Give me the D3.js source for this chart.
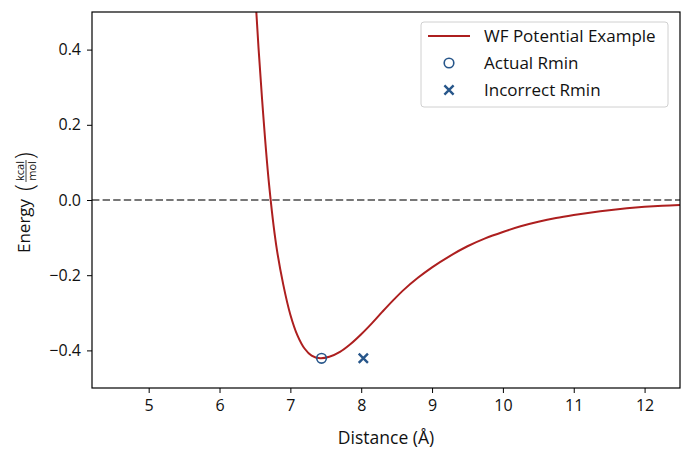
<!DOCTYPE html>
<html>
<head>
<meta charset="utf-8">
<script src="https://cdn.jsdelivr.net/npm/d3@7"></script>
<style>
  body { margin: 0; background: #fff; }
  svg text { font-family: "Open Sans", "DejaVu Sans", sans-serif; fill: #111; }
</style>
</head>
<body>
<div id="chart"></div>
<script>
// WF potential curve
var distance = [6.45, 6.50, 6.60, 6.70, 6.80, 6.90, 7.00, 7.10, 7.20, 7.30, 7.42, 7.55, 7.70,
                7.85, 8.00, 8.15, 8.30, 8.45, 8.60, 8.80, 9.00, 9.25, 9.50, 9.75, 10.0, 10.25,
                10.5, 10.75, 11.0, 11.25, 11.5, 11.75, 12.0, 12.25, 12.5];
var energy = [0.76, 0.56, 0.27, 0.04, -0.12, -0.225, -0.305, -0.360, -0.395, -0.414, -0.421,
              -0.417, -0.404, -0.383, -0.357, -0.328, -0.297, -0.267, -0.239, -0.207, -0.179,
              -0.149, -0.123, -0.102, -0.085, -0.070, -0.058, -0.048, -0.040, -0.033, -0.027,
              -0.022, -0.018, -0.015, -0.013];

var actualRmin = [7.44, -0.421];
var incorrectRmin = [8.03, -0.421];

var xTicks = [5, 6, 7, 8, 9, 10, 11, 12];
var yTicks = [-0.4, -0.2, 0.0, 0.2, 0.4];
var legendLabels = ["WF Potential Example", "Actual Rmin", "Incorrect Rmin"];

var curveColor = "#ad1f1f";
var markColor = "#27568a";

var width = 690, height = 458;
var margin = {top: 12, right: 10, bottom: 70, left: 92};
var w = width - margin.left - margin.right,
    h = height - margin.top - margin.bottom;

var svg = d3.select("#chart").append("svg")
    .attr("width", width)
    .attr("height", height);

var g = svg.append("g")
    .attr("transform", "translate(" + margin.left + "," + margin.top + ")");

var x = d3.scaleLinear().domain([4.2, 12.5]).range([0, w]);
var y = d3.scaleLinear().domain([-0.5, 0.5]).range([h, 0]);

g.append("clipPath").attr("id", "clip")
    .append("rect").attr("width", w).attr("height", h);

// zero line
g.append("line")
    .attr("x1", 0).attr("x2", w)
    .attr("y1", y(0)).attr("y2", y(0))
    .attr("stroke", "#777")
    .attr("stroke-width", 2)
    .attr("stroke-dasharray", "7.4,3.2");

// curve
var pts = distance.map(function (d, i) { return [d, energy[i]]; });
var line = d3.line()
    .x(function (d) { return x(d[0]); })
    .y(function (d) { return y(d[1]); })
    .curve(d3.curveCatmullRom.alpha(0.5));

g.append("path")
    .datum(pts)
    .attr("clip-path", "url(#clip)")
    .attr("d", line)
    .attr("fill", "none")
    .attr("stroke", curveColor)
    .attr("stroke-width", 2);

// markers
function ring(sel, cx, cy) {
    sel.append("circle")
        .attr("cx", cx).attr("cy", cy)
        .attr("r", 4.8)
        .attr("fill", "none")
        .attr("stroke", markColor)
        .attr("stroke-width", 1.6);
}
function cross(sel, cx, cy, s) {
    sel.append("path")
        .attr("d", "M" + (cx - s) + "," + (cy - s) + "L" + (cx + s) + "," + (cy + s) +
                   "M" + (cx - s) + "," + (cy + s) + "L" + (cx + s) + "," + (cy - s))
        .attr("stroke", markColor)
        .attr("stroke-width", 2.4)
        .attr("fill", "none");
}
ring(g, x(actualRmin[0]), y(actualRmin[1]));
cross(g, x(incorrectRmin[0]), y(incorrectRmin[1]), 4.6);

// axes
var xAxis = g.append("g")
    .attr("transform", "translate(0," + h + ")")
    .call(d3.axisBottom(x).tickValues(xTicks).tickSize(5).tickPadding(7)
        .tickFormat(d3.format("d")));
var yAxis = g.append("g")
    .call(d3.axisLeft(y).tickValues(yTicks).tickSize(5).tickPadding(6)
        .tickFormat(function (d) { return d3.format(".1f")(d).replace("-", "\u2212"); }));

[xAxis, yAxis].forEach(function (a) {
    a.select(".domain").remove();
    a.selectAll("line").attr("stroke", "#000").attr("stroke-width", 1);
    a.selectAll("text").attr("font-size", 16).attr("fill", "#111")
        .style("font-family", "'Open Sans', sans-serif");
});

// frame
g.append("rect")
    .attr("width", w).attr("height", h)
    .attr("fill", "none")
    .attr("stroke", "#000")
    .attr("stroke-width", 1.2);

// x label
svg.append("text")
    .attr("x", margin.left + w / 2)
    .attr("y", 444)
    .attr("text-anchor", "middle")
    .attr("font-size", 17.5)
    .text("Distance (\u00c5)");

// y label
var yl = svg.append("g").attr("transform", "translate(30,198) rotate(-90)");
yl.append("text")
    .attr("x", -55).attr("y", 0)
    .attr("font-size", 17)
    .text("Energy");
yl.append("text")
    .attr("x", 7).attr("y", 3)
    .attr("font-size", 25)
    .style("font-weight", 300)
    .text("(");
yl.append("text")
    .attr("x", 27).attr("y", -6)
    .attr("text-anchor", "middle")
    .attr("font-size", 11)
    .text("kcal");
yl.append("line")
    .attr("x1", 16).attr("x2", 38)
    .attr("y1", -4).attr("y2", -4)
    .attr("stroke", "#111").attr("stroke-width", 0.8);
yl.append("text")
    .attr("x", 27).attr("y", 6)
    .attr("text-anchor", "middle")
    .attr("font-size", 11)
    .text("mol");
yl.append("text")
    .attr("x", 39).attr("y", 3)
    .attr("font-size", 25)
    .style("font-weight", 300)
    .text(")");

// legend
var lg = svg.append("g").attr("transform", "translate(421,22)");
lg.append("rect")
    .attr("width", 247).attr("height", 85)
    .attr("rx", 3)
    .attr("fill", "#fff").attr("fill-opacity", 0.8)
    .attr("stroke", "#d0d0d0");

var rowY = [14, 41, 68];
lg.append("line")
    .attr("x1", 7).attr("x2", 49)
    .attr("y1", rowY[0]).attr("y2", rowY[0])
    .attr("stroke", curveColor).attr("stroke-width", 2);
ring(lg, 28, rowY[1]);
cross(lg, 28, rowY[2], 4.6);

lg.selectAll("text.lab")
    .data(legendLabels)
    .enter().append("text")
    .attr("class", "lab")
    .attr("x", 63)
    .attr("y", function (d, i) { return rowY[i] + 6; })
    .attr("font-size", 17)
    .text(function (d) { return d; });
</script>
</body>
</html>
